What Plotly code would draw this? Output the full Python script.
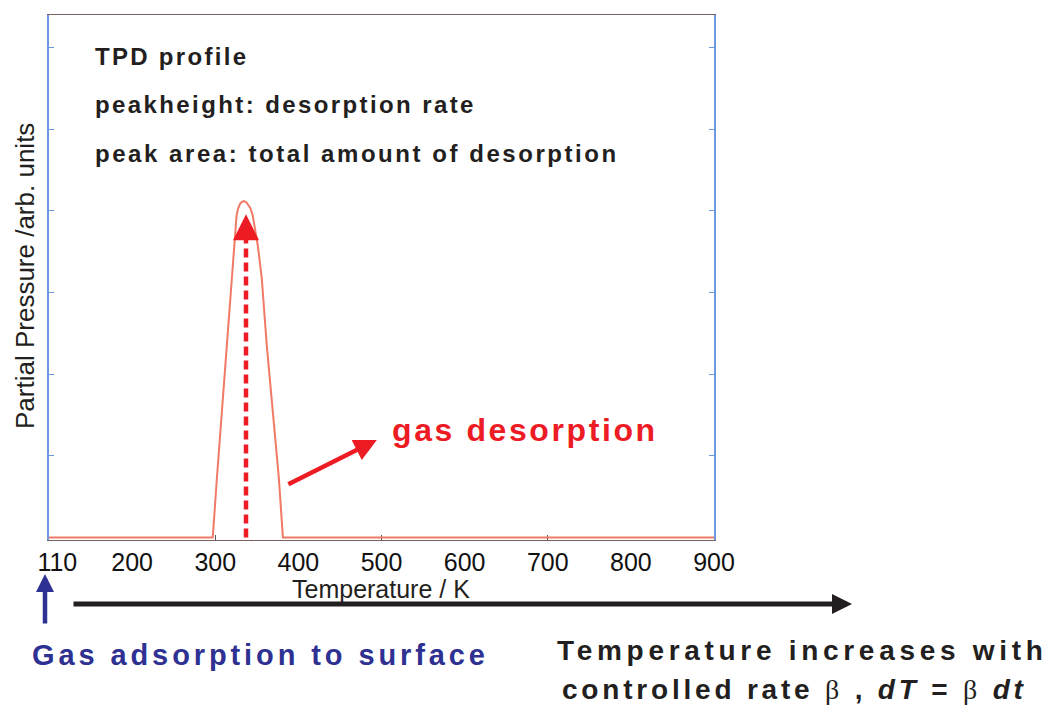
import plotly.graph_objects as go

# ---- data ----
temperature_K = [100, 297, 302, 314, 320, 322.5, 324, 325.7, 327.5, 330, 332, 334.5, 337, 339, 342, 345, 347.7, 351.3, 356, 362, 376.5, 381.4, 900]
partial_pressure = [0, 0, 0.73, 2.35, 3.17, 3.57, 3.78, 3.95, 4.03, 4.09, 4.11, 4.12, 4.11, 4.08, 4.04, 3.95, 3.78, 3.57, 3.17, 2.35, 0.73, 0, 0]

x_tick_vals = [110, 200, 300, 400, 500, 600, 700, 800, 900]
x_tick_text = ["110", "200", "300", "400", "500", "600", "700", "800", "900"]
x_minor_ticks = [300, 500, 700]
y_tick_vals = [1, 2, 3, 4, 5, 6]

peak_T = 337
peak_arrow_top = 3.96

FONT = "Arial, Liberation Sans, sans-serif"
SERIF = "Liberation Serif, Times New Roman, serif"
RED = "#ed1c24"
BLUE = "#2e3192"
DARK = "#231f20"
CURVE = "#f07a65"

fig = go.Figure()
fig.add_trace(go.Scatter(x=temperature_K, y=partial_pressure, mode="lines",
                         line=dict(color=CURVE, width=2), showlegend=False, hoverinfo="skip"))

# dashed vertical arrow at the peak
fig.add_shape(type="line", xref="x", yref="y", x0=peak_T, x1=peak_T, y0=0, y1=peak_arrow_top - 0.2,
              line=dict(color=RED, width=4.5, dash="9px,5px"))

def ls(text, sp):
    return f'<span style="letter-spacing:{sp}px">{text}</span>'

annotations = [
    # arrowhead of the dashed arrow
    dict(x=peak_T, y=peak_arrow_top, xref="x", yref="y", ax=0, ay=24, text="", showarrow=True,
         arrowhead=2, arrowsize=1.3, arrowwidth=4, arrowcolor=RED, standoff=0),
    # diagonal red arrow
    dict(x=494.4, y=1.195, xref="x", yref="y", ax=-90, ay=45, text="", showarrow=True,
         arrowhead=2, arrowsize=1, arrowwidth=4.5, arrowcolor=RED, standoff=0),
    # black temperature arrow
    dict(x=(852 - 49) / 665, y=(540 - 604) / 525, xref="paper", yref="paper", ax=-780, ay=0, text="",
         showarrow=True, arrowhead=2, arrowsize=0.8, arrowwidth=5, arrowcolor="#231f20", standoff=0),
    # blue adsorption arrow
    dict(x=(45 - 49) / 665, y=(540 - 574) / 525, xref="paper", yref="paper", ax=0, ay=51, text="",
         showarrow=True, arrowhead=2, arrowsize=0.8, arrowwidth=4.5, arrowcolor=BLUE, standoff=0),
]

def txt(t, px, py, size, color, xanchor="left", bold=True, angle=0):
    return dict(text=(f"<b>{t}</b>" if bold else t), x=(px - 49) / 665, y=(540 - py) / 525,
                xref="paper", yref="paper", xanchor=xanchor, yanchor="middle", showarrow=False,
                textangle=angle, font=dict(family=FONT, size=size, color=color))

annotations += [
    txt(ls("TPD profile", 2.3), 93, 57, 24, DARK),
    txt(ls("peakheight: desorption rate", 2.4), 93, 105, 24, DARK),
    txt(ls("peak area: total amount of desorption", 2.55), 93, 153, 24, DARK),
    txt(ls("gas desorption", 2.6), 390, 430, 32, RED),
    txt("Partial Pressure /arb. units", 25, 276, 26, DARK, xanchor="center", bold=False, angle=-90),
    txt("Temperature / K", 381, 589, 25, DARK, xanchor="center", bold=False),
    txt(ls("Gas adsorption to surface", 3.9), 30, 655, 29, BLUE),
    txt(ls("Temperature increases with", 4.7), 555, 650, 28, DARK),
    dict(text=ls(f'<b>controlled rate </b><span style="font-family:{SERIF}">β</span><b> , <i>dT</i> = </b>'
                 f'<span style="font-family:{SERIF}">β</span><b> <i>dt</i></b>', 3.8),
         x=(560 - 49) / 665, y=(540 - 690) / 525, xref="paper", yref="paper", xanchor="left", yanchor="middle",
         showarrow=False, font=dict(family=FONT, size=28, color=DARK)),
]

fig.update_layout(
    width=1051, height=708,
    margin=dict(l=49, r=1051 - 714, t=15, b=708 - 540, pad=0),
    paper_bgcolor="white", plot_bgcolor="white",
    showlegend=False,
    annotations=annotations,
    font=dict(family=FONT, color=DARK),
    xaxis=dict(range=[100, 900], tickvals=x_tick_vals, ticktext=x_tick_text, ticks="",
               tickfont=dict(family=FONT, size=25, color="#111"),
               showline=True, linecolor="#7a6060", linewidth=1, mirror=True, layer="below traces",
               showgrid=False, zeroline=False, fixedrange=True,
               minor=dict(tickvals=x_minor_ticks, ticks="inside", ticklen=5, tickcolor="#555", showgrid=False)),
    yaxis=dict(range=[-0.03, 6.4], tickvals=y_tick_vals, showticklabels=False, ticks="inside", ticklen=5,
               tickcolor="#6a9be0", showline=True, linecolor="#6a9be0", linewidth=1.5, mirror="ticks",
               layer="below traces", showgrid=False, zeroline=False, fixedrange=True),
)

fig.write_html("out.html")
